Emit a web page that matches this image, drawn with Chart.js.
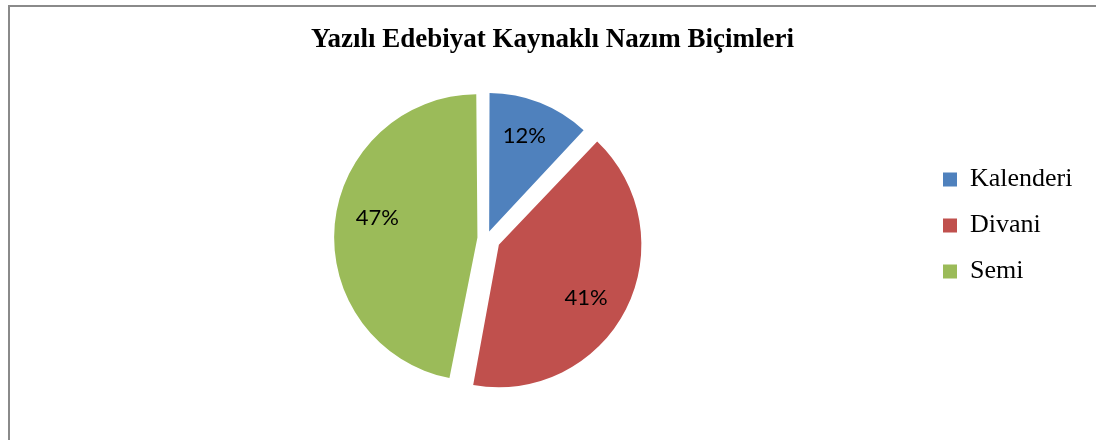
<!DOCTYPE html>
<html lang="tr">
<head>
<meta charset="utf-8">
<title>Yazılı Edebiyat Kaynaklı Nazım Biçimleri</title>
<script src="https://cdn.jsdelivr.net/npm/chart.js@4"></script>
<style>
  html, body { margin: 0; padding: 0; background: #fff; }
  #wrap { position: relative; width: 1096px; height: 440px; }
</style>
</head>
<body>
<div id="wrap"><canvas id="pie-chart"></canvas></div>
<script>
// Veriler (yüzde)
const categories = ['Kalenderi', 'Divani', 'Semi'];
const shares = [12, 41, 47];
const sliceColors = ['#4F81BD', '#C0504D', '#9BBB59'];
const chartTitle = 'Yazılı Edebiyat Kaynaklı Nazım Biçimleri';

// Dış çerçeve (sadece sol ve üst kenar görünüyor)
const frameBorder = {
    id: 'frameBorder',
    beforeDraw(chart) {
        const c = chart.ctx;
        c.save();
        c.strokeStyle = '#8a8a8a';
        c.lineWidth = 2;
        c.strokeRect(9, 6, 1400, 800);
        c.restore();
    },
};

// Lejant kutusu dar tutuldu (pastayı ortalamak için); yazı kırpılmasın diye sağa genişlet
const legendClipFix = {
    id: 'legendClipFix',
    afterLayout(chart) {
        chart.legend.right = chart.width;
        chart.legend.width = chart.legend.right - chart.legend.left;
    },
};

// Dilim içindeki yüzde etiketleri (Excel etiketleri orta açıdan biraz kayık duruyor)
const labelNudgeDeg = [-1.5, 4.2, 5.6];
const sliceLabels = {
    id: 'sliceLabels',
    afterDatasetsDraw(chart) {
        const c = chart.ctx;
        const meta = chart.getDatasetMeta(0);
        c.save();
        c.font = '22px Lato';
        c.fillStyle = '#000';
        c.textAlign = 'center';
        c.textBaseline = 'middle';
        meta.data.forEach((arc, i) => {
            const p = arc.getProps(['x', 'y', 'startAngle', 'endAngle', 'outerRadius'], true);
            const mid = (p.startAngle + p.endAngle) / 2;
            const shift = (arc.options.offset || 0) / 4;
            const cx = p.x + Math.cos(mid) * shift;
            const cy = p.y + Math.sin(mid) * shift;
            const a = mid + labelNudgeDeg[i] * Math.PI / 180;
            const d = p.outerRadius * 0.75;
            c.fillText(shares[i] + '%', cx + Math.cos(a) * d, cy + Math.sin(a) * d);
        });
        c.restore();
    },
};

new Chart(document.getElementById('pie-chart'), {
    type: 'pie',
    data: {
        labels: categories,
        datasets: [{
            data: shares,
            backgroundColor: sliceColors,
            borderWidth: 0,
            offset: [30, 56, 36],
            hoverOffset: 0,
        }],
    },
    options: {
        responsive: true,
        maintainAspectRatio: false,
        animation: false,
        events: [],
        layout: { padding: { top: 0, left: 49.8, right: 40.8, bottom: 37.6 } },
        plugins: {
            title: {
                display: true,
                text: chartTitle,
                color: '#000',
                font: { family: 'Liberation Serif', size: 27, weight: 'bold', lineHeight: 1.2 },
                padding: { top: 24.3, bottom: 17.7 },
            },
            legend: {
                position: 'right',
                align: 'start',
                maxWidth: 132.2,
                title: {
                    display: true,
                    text: ' ',
                    font: { size: 10, lineHeight: 1.2 },
                    padding: { top: 0, bottom: 134.5 },
                },
                labels: {
                    color: '#000',
                    boxWidth: 14,
                    boxHeight: 14,
                    padding: 20,
                    font: { family: 'Liberation Serif', size: 26 },
                },
            },
            tooltip: { enabled: false },
        },
    },
    plugins: [frameBorder, legendClipFix, sliceLabels],
});
</script>
</body>
</html>
